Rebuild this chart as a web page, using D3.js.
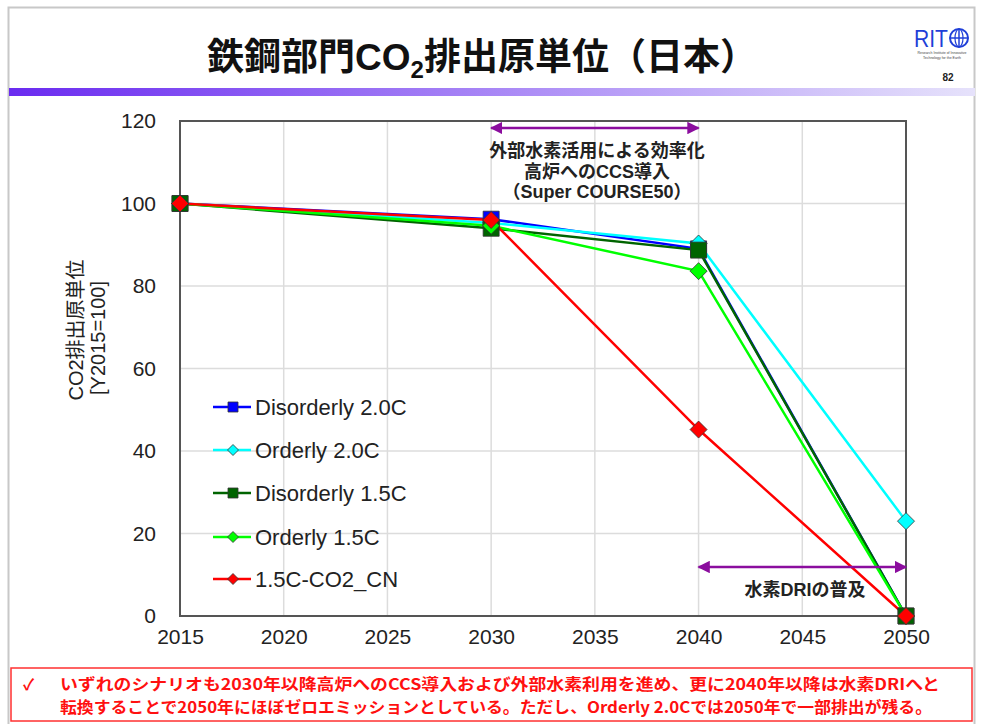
<!DOCTYPE html>
<html><head><meta charset="utf-8">
<script src="https://cdn.jsdelivr.net/npm/d3@7"></script>
<style>
body{margin:0;background:#fff;}
svg{display:block;font-family:"Liberation Sans",Arial,"Noto Sans CJK JP",sans-serif;}
</style></head>
<body><svg id="c" width="981" height="724"></svg>
<script>
const years = [2015, 2030, 2040, 2050];
const seriesNames = ["Disorderly 2.0C","Orderly 2.0C","Disorderly 1.5C","Orderly 1.5C","1.5C-CO2_CN"];
const disorderly20 = [100, 96.2, 89.0, 0];
const orderly20 = [100, 95.3, 90.3, 23.0];
const disorderly15 = [100, 94.0, 88.7, 0];
const orderly15 = [100, 94.6, 83.6, 0];
const cn15 = [100, 96.0, 45.2, 0];
const xTicks = [2015,2020,2025,2030,2035,2040,2045,2050];
const yTicks = [0,20,40,60,80,100,120];

const colors = ["#0000ff","#00ffff","#006400","#00ff00","#ff0000"];
const markers = ["square","diamond","square","diamond","diamond"];
const values = [disorderly20, orderly20, disorderly15, orderly15, cn15];

const svg = d3.select("#c");
const JP = '"Noto Sans CJK JP",sans-serif';
const MIX = '"Liberation Sans",Arial,"Noto Sans CJK JP",sans-serif';

// slide frame
svg.append("rect").attr("x",8.5).attr("y",7.5).attr("width",966).attr("height",730).attr("fill","none").attr("stroke","#c8c8c8").attr("stroke-width",2);

// gradient bar
const defs = svg.append("defs");
const g = defs.append("linearGradient").attr("id","bar");
g.append("stop").attr("offset","0%").attr("stop-color","#6a2bf0");
g.append("stop").attr("offset","100%").attr("stop-color","#e6e2fb");
svg.append("rect").attr("x",9).attr("y",88).attr("width",966).attr("height",8).attr("fill","url(#bar)");

// title
const t = svg.append("text").attr("x",482).attr("y",70).attr("text-anchor","middle")
  .attr("font-family",JP).attr("font-weight","bold").attr("font-size",37).attr("fill","#111");
t.append("tspan").text("鉄鋼部門");
t.append("tspan").attr("font-family",'"Liberation Sans",Arial').text("CO");
t.append("tspan").attr("font-family",'"Liberation Sans",Arial').attr("font-size",24).attr("dy",8).text("2");
t.append("tspan").attr("dy",-8).text("排出原単位（日本）");

// logo
svg.append("text").attr("x",914).attr("y",47).attr("font-size",24).attr("fill","#1f3fd8").attr("font-family",'"Liberation Sans Narrow","Liberation Sans",Arial')
  .attr("textLength",34).attr("lengthAdjust","spacingAndGlyphs").text("RIT");
const gl = svg.append("g").attr("transform","translate(959,38)");
gl.append("circle").attr("r",9).attr("fill","none").attr("stroke","#1f3fd8").attr("stroke-width",2);
gl.append("line").attr("x1",-9).attr("x2",9).attr("stroke","#1f3fd8").attr("stroke-width",1.5);
gl.append("line").attr("y1",-9).attr("y2",9).attr("stroke","#1f3fd8").attr("stroke-width",1.5);
gl.append("ellipse").attr("rx",4).attr("ry",9).attr("fill","none").attr("stroke","#1f3fd8").attr("stroke-width",1.2);
svg.append("text").attr("x",942).attr("y",54).attr("text-anchor","middle").attr("font-size",3.5).attr("fill","#444").text("Research Institute of Innovative");
svg.append("text").attr("x",942).attr("y",59).attr("text-anchor","middle").attr("font-size",3.5).attr("fill","#444").text("Technology for the Earth");
svg.append("text").attr("x",948).attr("y",81).attr("text-anchor","middle").attr("font-size",10).attr("font-weight","bold").attr("fill","#222").text("82");

// chart
const x = d3.scaleLinear().domain([2015,2050]).range([180,906]);
const y = d3.scaleLinear().domain([0,120]).range([616,121]);

// gridlines
svg.append("g").selectAll("line").data(xTicks.slice(1,-1)).join("line")
  .attr("x1",d=>x(d)).attr("x2",d=>x(d)).attr("y1",y(0)).attr("y2",y(120))
  .attr("stroke","#dcdcdc").attr("stroke-width",1.5);
svg.append("g").selectAll("line").data(yTicks.slice(1,-1)).join("line")
  .attr("x1",x(2015)).attr("x2",x(2050)).attr("y1",d=>y(d)).attr("y2",d=>y(d))
  .attr("stroke","#dcdcdc").attr("stroke-width",1.5);

// border box
svg.append("rect").attr("x",x(2015)).attr("y",y(120)).attr("width",x(2050)-x(2015)).attr("height",y(0)-y(120))
  .attr("fill","none").attr("stroke","#555").attr("stroke-width",2);

// axes
const xa = svg.append("g").attr("transform",`translate(0,${y(0)})`)
  .call(d3.axisBottom(x).tickValues(xTicks).tickFormat(d3.format("d")).tickSize(0).tickPadding(13));
xa.select(".domain").remove();
xa.selectAll("text").attr("font-size",21).attr("fill","#222").attr("font-family",'"Liberation Sans",Arial');
const ya = svg.append("g").attr("transform",`translate(${x(2015)},0)`)
  .call(d3.axisLeft(y).tickValues(yTicks).tickSize(0).tickPadding(24));
ya.select(".domain").remove();
ya.selectAll("text").attr("font-size",21).attr("fill","#222").attr("font-family",'"Liberation Sans",Arial');

// y label
const yl = svg.append("text").attr("transform","translate(83,330) rotate(-90)").attr("text-anchor","middle")
  .attr("font-size",20).attr("fill","#222").attr("font-family",MIX);
yl.append("tspan").attr("x",0).attr("dy",0).text("CO2排出原単位");
yl.append("tspan").attr("x",-8).attr("dy",22).text("[Y2015=100]");

// markers
function markerPath(type, size){
  if(type==="square") return d3.symbol().type(d3.symbolSquare).size(size*size)();
  const h = size/2;
  return `M0,${-h}L${h},0L0,${h}L${-h},0Z`;
}
const line = d3.line().x((d,i)=>x(years[i])).y(d=>y(d));
values.forEach((vals,si)=>{
  svg.append("path").datum(vals).attr("d",line).attr("fill","none").attr("stroke",colors[si]).attr("stroke-width",2.5);
});
values.forEach((vals,si)=>{
  const sz = markers[si]==="square" ? 16 : 17;
  svg.append("g").selectAll("path").data(vals).join("path")
    .attr("transform",(d,i)=>`translate(${x(years[i])},${y(d)})`)
    .attr("d",markerPath(markers[si],sz))
    .attr("fill",colors[si]).attr("stroke","#333").attr("stroke-width",0.8);
});

// legend
const legY = [407,450,493,537,579];
seriesNames.forEach((n,i)=>{
  const lg = svg.append("g").attr("transform",`translate(213,${legY[i]})`);
  lg.append("line").attr("x1",0).attr("x2",38).attr("stroke",colors[i]).attr("stroke-width",2.5);
  lg.append("path").attr("transform","translate(20,0)")
    .attr("d",markerPath(markers[i], markers[i]==="square"?10:11))
    .attr("fill",colors[i]).attr("stroke","#333").attr("stroke-width",0.8);
  lg.append("text").attr("x",42).attr("y",8).attr("font-size",22).attr("fill","#222").attr("font-family",'"Liberation Sans",Arial').text(n);
});

// arrows
const purple = "#8b0d9e";
defs.append("marker").attr("id","ah").attr("viewBox","0 0 10 10").attr("refX",9).attr("refY",5)
  .attr("markerWidth",5).attr("markerHeight",5).attr("orient","auto-start-reverse")
  .append("path").attr("d","M0,0 L10,5 L0,10 Z").attr("fill",purple);
function arrow(y0,x0,x1){
  svg.append("line").attr("x1",x(x0)).attr("x2",x(x1)).attr("y1",y0).attr("y2",y0)
   .attr("stroke",purple).attr("stroke-width",2.5).attr("marker-start","url(#ah)").attr("marker-end","url(#ah)");
}
arrow(128,2030,2040);
arrow(567,2040,2050);
const ann = ["外部水素活用による効率化","高炉へのCCS導入","（Super COURSE50）"];
ann.forEach((s,i)=>{
  svg.append("text").attr("x",597).attr("y",157+i*20.5).attr("text-anchor","middle")
   .attr("font-size",18).attr("font-weight","bold").attr("fill","#222").attr("font-family",MIX).text(s);
});
svg.append("text").attr("x",805).attr("y",596).attr("text-anchor","middle")
   .attr("font-size",18).attr("font-weight","bold").attr("fill","#222").attr("font-family",MIX).text("水素DRIの普及");

// bottom note box
svg.append("rect").attr("x",11).attr("y",668).attr("width",961).attr("height",53).attr("fill","#fff").attr("stroke","#ff3030").attr("stroke-width",1.5);
const noteStyle = s=>s.attr("font-size",15.5).attr("font-weight","bold").attr("fill","#ff1010").attr("font-family",JP);
noteStyle(svg.append("text").attr("x",23).attr("y",690)).text("✓");
noteStyle(svg.append("text").attr("x",60).attr("y",690).attr("textLength",880).attr("lengthAdjust","spacingAndGlyphs"))
  .text("いずれのシナリオも2030年以降高炉へのCCS導入および外部水素利用を進め、更に2040年以降は水素DRIへと");
noteStyle(svg.append("text").attr("x",60).attr("y",713).attr("textLength",872).attr("lengthAdjust","spacingAndGlyphs"))
  .text("転換することで2050年にほぼゼロエミッションとしている。ただし、Orderly 2.0Cでは2050年で一部排出が残る。");
</script></body></html>
